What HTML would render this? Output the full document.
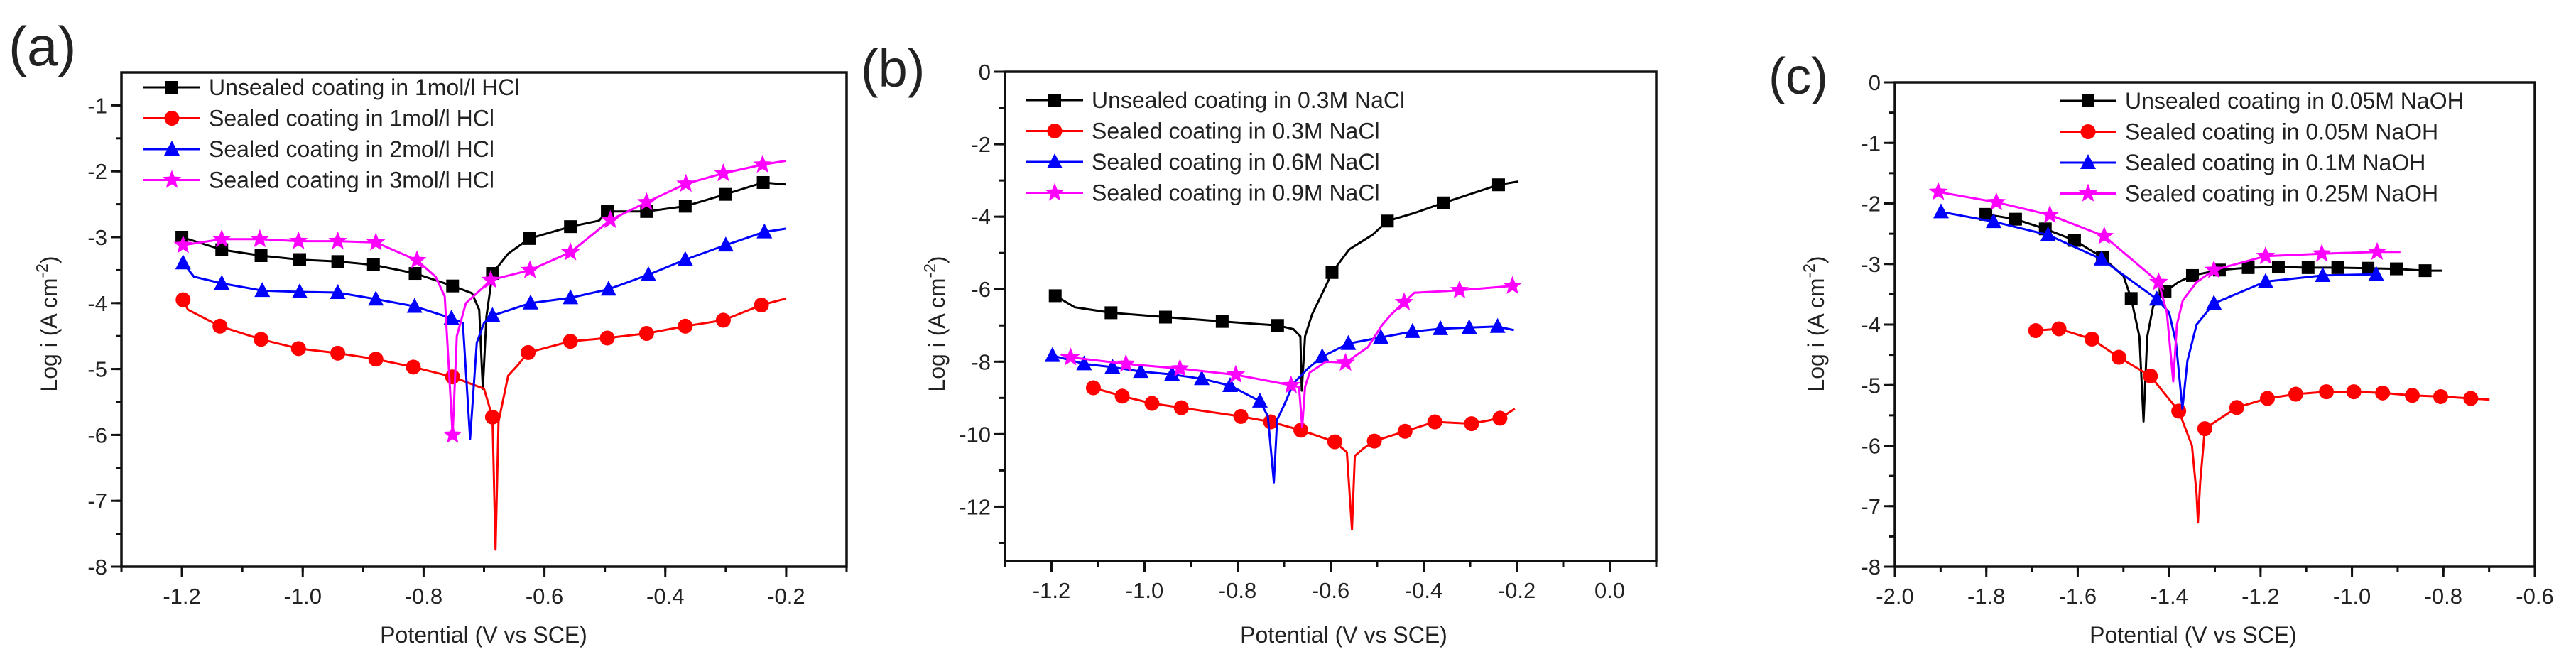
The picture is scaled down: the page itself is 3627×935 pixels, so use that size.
<!DOCTYPE html>
<html><head><meta charset="utf-8">
<style>
html,body{margin:0;padding:0;background:#fff;}
svg{display:block;}
text{font-family:"Liberation Sans",Arial,sans-serif;fill:#222;}
</style></head>
<body>
<svg id="fig" width="3627" height="935" viewBox="0 0 3627 935" xmlns="http://www.w3.org/2000/svg"></svg>
<script>
// ---------- Panel (a) data ----------
const aLegend = ["Unsealed coating in 1mol/l HCl","Sealed coating in 1mol/l HCl","Sealed coating in 2mol/l HCl","Sealed coating in 3mol/l HCl"];
const aXTicks = [-1.2,-1.0,-0.8,-0.6,-0.4,-0.2];
const aXTickLabels = ["-1.2","-1.0","-0.8","-0.6","-0.4","-0.2"];
const aYTicks = [-1,-2,-3,-4,-5,-6,-7,-8];
const aYTickLabels = ["-1","-2","-3","-4","-5","-6","-7","-8"];
const aBlkX = [-1.2,-1.134,-1.069,-1.005,-0.942,-0.883,-0.814,-0.752,-0.72,-0.708,-0.702,-0.696,-0.686,-0.66,-0.625,-0.557,-0.51,-0.496,-0.431,-0.367,-0.301,-0.238,-0.2];
const aBlkY = [-3.0,-3.19,-3.28,-3.34,-3.37,-3.42,-3.55,-3.74,-3.85,-4.1,-5.3,-4.2,-3.55,-3.25,-3.02,-2.84,-2.75,-2.61,-2.61,-2.53,-2.35,-2.17,-2.2];
const aBlkM = [1,1,1,1,1,1,1,1,0,0,0,0,1,0,1,1,0,1,1,1,1,1,0];
const aRedX = [-1.198,-1.19,-1.137,-1.069,-1.007,-0.942,-0.879,-0.817,-0.752,-0.70,-0.686,-0.681,-0.676,-0.66,-0.645,-0.627,-0.557,-0.496,-0.431,-0.367,-0.304,-0.241,-0.2];
const aRedY = [-3.95,-4.1,-4.35,-4.55,-4.69,-4.76,-4.85,-4.97,-5.12,-5.3,-5.73,-7.74,-5.8,-5.1,-4.95,-4.75,-4.58,-4.53,-4.46,-4.35,-4.26,-4.03,-3.93];
const aRedM = [1,0,1,1,1,1,1,1,1,0,1,0,0,0,0,1,1,1,1,1,1,1,0];
const aBluX = [-1.198,-1.18,-1.134,-1.067,-1.005,-0.942,-0.879,-0.815,-0.754,-0.735,-0.723,-0.712,-0.70,-0.686,-0.623,-0.557,-0.494,-0.428,-0.367,-0.3,-0.236,-0.2];
const aBluY = [-3.39,-3.6,-3.70,-3.81,-3.83,-3.84,-3.94,-4.05,-4.23,-4.3,-6.06,-4.6,-4.3,-4.19,-4.0,-3.92,-3.79,-3.57,-3.34,-3.12,-2.92,-2.87];
const aBluM = [1,0,1,1,1,1,1,1,1,0,0,0,0,1,1,1,1,1,1,1,1,0];
const aMagX = [-1.198,-1.134,-1.071,-1.007,-0.942,-0.879,-0.811,-0.78,-0.765,-0.752,-0.745,-0.73,-0.70,-0.689,-0.624,-0.557,-0.491,-0.431,-0.366,-0.304,-0.239,-0.2];
const aMagY = [-3.12,-3.03,-3.03,-3.06,-3.06,-3.08,-3.35,-3.6,-3.9,-6.0,-4.5,-4.0,-3.75,-3.65,-3.50,-3.23,-2.74,-2.47,-2.19,-2.03,-1.90,-1.84];
const aMagM = [1,1,1,1,1,1,1,0,0,1,0,0,0,1,1,1,1,1,1,1,1,0];

// ---------- Panel (b) data ----------
const bLegend = ["Unsealed coating in 0.3M NaCl","Sealed coating in 0.3M NaCl","Sealed coating in 0.6M NaCl","Sealed coating in 0.9M NaCl"];
const bXTicks = [-1.2,-1.0,-0.8,-0.6,-0.4,-0.2,0.0];
const bXTickLabels = ["-1.2","-1.0","-0.8","-0.6","-0.4","-0.2","0.0"];
const bYTicks = [0,-2,-4,-6,-8,-10,-12];
const bYTickLabels = ["0","-2","-4","-6","-8","-10","-12"];
const bBlkX = [-1.192,-1.15,-1.072,-0.955,-0.833,-0.714,-0.68,-0.665,-0.662,-0.655,-0.64,-0.61,-0.597,-0.56,-0.51,-0.478,-0.42,-0.358,-0.239,-0.197];
const bBlkY = [-6.18,-6.5,-6.65,-6.77,-6.89,-7.0,-7.1,-7.3,-8.8,-7.3,-6.7,-5.9,-5.54,-4.9,-4.5,-4.12,-3.9,-3.62,-3.12,-3.03];
const bBlkM = [1,0,1,1,1,1,0,0,0,0,0,0,1,0,0,1,0,1,1,0];
const bRedX = [-1.11,-1.048,-0.984,-0.921,-0.793,-0.729,-0.664,-0.591,-0.565,-0.554,-0.548,-0.53,-0.506,-0.44,-0.376,-0.297,-0.236,-0.204];
const bRedY = [-8.72,-8.95,-9.15,-9.27,-9.51,-9.66,-9.89,-10.21,-10.5,-12.63,-10.6,-10.4,-10.19,-9.92,-9.66,-9.71,-9.56,-9.3];
const bRedM = [1,1,1,1,1,1,1,1,0,0,0,0,1,1,1,1,1,0];
const bBluX = [-1.198,-1.13,-1.069,-1.008,-0.941,-0.877,-0.816,-0.752,-0.735,-0.722,-0.715,-0.70,-0.68,-0.65,-0.618,-0.562,-0.492,-0.424,-0.364,-0.302,-0.241,-0.206];
const bBluY = [-7.83,-8.06,-8.15,-8.27,-8.35,-8.47,-8.66,-9.09,-9.5,-11.33,-9.6,-9.2,-8.6,-8.2,-7.86,-7.50,-7.33,-7.17,-7.09,-7.06,-7.03,-7.13];
const bBluM = [1,1,1,1,1,1,1,1,0,0,0,0,0,0,1,1,1,1,1,1,1,0];
const bMagX = [-1.18,-1.159,-1.040,-0.924,-0.804,-0.685,-0.668,-0.661,-0.655,-0.645,-0.61,-0.568,-0.52,-0.49,-0.47,-0.442,-0.42,-0.323,-0.209,-0.2];
const bMagY = [-7.8,-7.88,-8.06,-8.19,-8.36,-8.65,-8.7,-9.8,-8.7,-8.3,-8.0,-8.03,-7.6,-7.0,-6.7,-6.36,-6.1,-6.03,-5.91,-5.95];
const bMagM = [0,1,1,1,1,1,0,0,0,0,0,1,0,0,0,1,0,1,1,0];

// ---------- Panel (c) data ----------
const cLegend = ["Unsealed coating in 0.05M NaOH","Sealed coating in 0.05M NaOH","Sealed coating in 0.1M NaOH","Sealed coating in 0.25M NaOH"];
const cXTicks = [-2.0,-1.8,-1.6,-1.4,-1.2,-1.0,-0.8,-0.6];
const cXTickLabels = ["-2.0","-1.8","-1.6","-1.4","-1.2","-1.0","-0.8","-0.6"];
const cYTicks = [0,-1,-2,-3,-4,-5,-6,-7,-8];
const cYTickLabels = ["0","-1","-2","-3","-4","-5","-6","-7","-8"];
const cBlkX = [-1.801,-1.736,-1.671,-1.607,-1.546,-1.50,-1.483,-1.465,-1.456,-1.448,-1.435,-1.409,-1.38,-1.349,-1.290,-1.227,-1.161,-1.096,-1.031,-0.965,-0.903,-0.840,-0.802];
const cBlkY = [-2.18,-2.26,-2.42,-2.61,-2.89,-3.2,-3.57,-4.2,-5.6,-4.2,-3.7,-3.46,-3.3,-3.19,-3.10,-3.06,-3.05,-3.06,-3.06,-3.07,-3.08,-3.11,-3.11];
const cBlkM = [1,1,1,1,1,0,1,0,0,0,0,1,0,1,1,1,1,1,1,1,1,1,0];
const cRedX = [-1.692,-1.641,-1.569,-1.510,-1.441,-1.379,-1.35,-1.34,-1.337,-1.332,-1.325,-1.322,-1.252,-1.185,-1.123,-1.056,-0.996,-0.933,-0.868,-0.806,-0.740,-0.699];
const cRedY = [-4.10,-4.07,-4.24,-4.54,-4.85,-5.43,-6.0,-6.8,-7.27,-6.6,-6.0,-5.72,-5.37,-5.22,-5.15,-5.11,-5.11,-5.13,-5.17,-5.19,-5.22,-5.24];
const cRedM = [1,1,1,1,1,1,0,0,0,0,0,1,1,1,1,1,1,1,1,1,1,0];
const cBluX = [-1.899,-1.784,-1.665,-1.548,-1.427,-1.40,-1.385,-1.371,-1.36,-1.34,-1.302,-1.189,-1.064,-0.947];
const cBluY = [-2.14,-2.30,-2.52,-2.92,-3.58,-3.8,-4.3,-5.39,-4.6,-4.0,-3.65,-3.29,-3.19,-3.17];
const cBluM = [1,1,1,1,1,0,0,0,0,0,1,1,1,1];
const cMagX = [-1.905,-1.778,-1.661,-1.542,-1.423,-1.405,-1.391,-1.383,-1.37,-1.34,-1.302,-1.189,-1.066,-0.945,-0.894];
const cMagY = [-1.81,-1.98,-2.19,-2.54,-3.30,-3.8,-4.94,-4.0,-3.6,-3.3,-3.10,-2.87,-2.83,-2.80,-2.80];
const cMagM = [1,1,1,1,1,0,0,0,0,0,1,1,1,1,0];

const NS = "http://www.w3.org/2000/svg";
const svg = document.getElementById("fig");
function mk(tag, attrs, parent){
  const e = document.createElementNS(NS, tag);
  for (const k in attrs) e.setAttribute(k, attrs[k]);
  (parent||svg).appendChild(e);
  return e;
}
const COLORS = ["#000000","#ff0000","#0000ff","#ff00ff"];
const SHAPES = ["square","circle","triangle","star"];

function marker(g, shape, cx, cy, color){
  let e;
  if (shape==="square"){
    e = mk("rect",{x:cx-9,y:cy-9,width:18,height:18,fill:color},g);
  } else if (shape==="circle"){
    e = mk("circle",{cx:cx,cy:cy,r:10.5,fill:color},g);
  } else if (shape==="triangle"){
    e = mk("polygon",{points:`${cx},${cy-12} ${cx+11},${cy+9} ${cx-11},${cy+9}`,fill:color},g);
  } else {
    let p=[];
    for(let i=0;i<10;i++){
      const r = i%2===0?14:6;
      const a = -Math.PI/2 + i*Math.PI/5;
      p.push((cx+r*Math.cos(a)).toFixed(1)+","+(cy+r*Math.sin(a)).toFixed(1));
    }
    e = mk("polygon",{points:p.join(" "),fill:color},g);
  }
  
  
  return e;
}

function panel(cfg){
  const g = mk("g",{});
  
  
  const sx = v => cfg.L + (v - cfg.xmin)/(cfg.xmax - cfg.xmin)*(cfg.R - cfg.L);
  const sy = v => cfg.T + (cfg.ymax - v)/(cfg.ymax - cfg.ymin)*(cfg.B - cfg.T);

  // panel letter
  const lt = mk("text",{x:cfg.letterX,y:cfg.letterY,"font-size":cfg.letterSize},g);
  lt.textContent = cfg.letter;
  
  

  // series
  cfg.series.forEach((s,si)=>{
    const sg = mk("g",{},g);
    
    
    const d = s.x.map((v,i)=>(i?"L":"M")+sx(v).toFixed(1)+","+sy(s.y[i]).toFixed(1)).join(" ");
    const pl = mk("path",{d:d,fill:"none",stroke:COLORS[si],"stroke-width":3,"stroke-linejoin":"round"},sg);
    
    
    s.x.forEach((v,i)=>{ if(s.m[i]) marker(sg, SHAPES[si], sx(v), sy(s.y[i]), COLORS[si]); });
  });

  // frame
  const fr = mk("rect",{x:cfg.L,y:cfg.T,width:cfg.R-cfg.L,height:cfg.B-cfg.T,fill:"none",stroke:"#111","stroke-width":3.5},g);
  
  

  // x ticks
  const xg = mk("g",{},g);
  
  
  for (let v = cfg.xmin; v <= cfg.xmax + 1e-9; v += 0.1){
    const x = sx(v);
    mk("line",{x1:x,y1:cfg.B,x2:x,y2:cfg.B+8,stroke:"#111","stroke-width":3},xg);
  }
  cfg.xt.forEach((v,i)=>{
    const x = sx(v);
    mk("line",{x1:x,y1:cfg.B,x2:x,y2:cfg.B+15,stroke:"#111","stroke-width":3},xg);
    const t = mk("text",{x:x,y:cfg.B+52,"font-size":31,"text-anchor":"middle"},xg);
    t.textContent = cfg.xl[i];
    
    
  });
  // y ticks
  const yg = mk("g",{},g);
  
  
  for (let v = cfg.ymax - cfg.yminorStart; v >= cfg.ymin - 1e-9; v -= cfg.yminor){
    const y = sy(v);
    mk("line",{x1:cfg.L,y1:y,x2:cfg.L-8,y2:y,stroke:"#111","stroke-width":3},yg);
  }
  cfg.yt.forEach((v,i)=>{
    const y = sy(v);
    mk("line",{x1:cfg.L,y1:y,x2:cfg.L-15,y2:y,stroke:"#111","stroke-width":3},yg);
    const t = mk("text",{x:cfg.L-20,y:y+11,"font-size":31,"text-anchor":"end"},yg);
    t.textContent = cfg.yl[i];
    
    
  });
  // axis titles
  const xtit = mk("text",{x:cfg.xTitleX,y:cfg.xTitleY,"font-size":32,"text-anchor":"middle"},g);
  xtit.textContent = "Potential (V vs SCE)";
  
  
  const ytit = mk("text",{x:0,y:0,"font-size":32,"text-anchor":"middle",transform:`translate(${cfg.yTitleX},${cfg.yTitleY}) rotate(-90)`},g);
  
  
  const t1 = mk("tspan",{},ytit); t1.textContent = "Log i (A cm";
  const t2 = mk("tspan",{dy:-13,"font-size":23},ytit); t2.textContent = "-2";
  const t3 = mk("tspan",{dy:13},ytit); t3.textContent = ")";

  // legend
  const lg = mk("g",{},g);
  
  
  cfg.legend.forEach((lab,i)=>{
    const y = cfg.legY + i*43.5;
    const eg = mk("g",{},lg);
    
    
    mk("line",{x1:cfg.legX,y1:y,x2:cfg.legX+80,y2:y,stroke:COLORS[i],"stroke-width":3},eg);
    marker(eg, SHAPES[i], cfg.legX+40, y, COLORS[i]);
    const t = mk("text",{x:cfg.legX+92,y:y+11,"font-size":32},eg);
    t.textContent = lab;
  });
}

panel({name:"panel-a-hcl", letter:"(a)", letterX:12, letterY:92, letterSize:78,
  L:171, R:1192, T:102, B:798, xmin:-1.3, xmax:-0.1, ymin:-8, ymax:-0.5,
  yminor:0.5, yminorStart:0.5,
  xt:aXTicks, xl:aXTickLabels, yt:aYTicks, yl:aYTickLabels,
  xTitleX:681, xTitleY:905, yTitleX:80, yTitleY:456,
  legX:202, legY:123, legend:aLegend,
  series:[{x:aBlkX,y:aBlkY,m:aBlkM},{x:aRedX,y:aRedY,m:aRedM},{x:aBluX,y:aBluY,m:aBluM},{x:aMagX,y:aMagY,m:aMagM}]});

panel({name:"panel-b-nacl", letter:"(b)", letterX:1212, letterY:122, letterSize:74,
  L:1415, R:2332, T:101, B:790, xmin:-1.3, xmax:0.1, ymin:-13.5, ymax:0,
  yminor:1, yminorStart:1,
  xt:bXTicks, xl:bXTickLabels, yt:bYTicks, yl:bYTickLabels,
  xTitleX:1892, xTitleY:905, yTitleX:1330, yTitleY:456,
  legX:1445, legY:141, legend:bLegend,
  series:[{x:bBlkX,y:bBlkY,m:bBlkM},{x:bRedX,y:bRedY,m:bRedM},{x:bBluX,y:bBluY,m:bBluM},{x:bMagX,y:bMagY,m:bMagM}]});

panel({name:"panel-c-naoh", letter:"(c)", letterX:2490, letterY:132, letterSize:72,
  L:2668, R:3569, T:116, B:798, xmin:-2.0, xmax:-0.6, ymin:-8, ymax:0,
  yminor:0.5, yminorStart:0.5,
  xt:cXTicks, xl:cXTickLabels, yt:cYTicks, yl:cYTickLabels,
  xTitleX:3088, xTitleY:905, yTitleX:2568, yTitleY:456,
  legX:2900, legY:142, legend:cLegend,
  series:[{x:cBlkX,y:cBlkY,m:cBlkM},{x:cRedX,y:cRedY,m:cRedM},{x:cBluX,y:cBluY,m:cBluM},{x:cMagX,y:cMagY,m:cMagM}]});
</script>
</body></html>
